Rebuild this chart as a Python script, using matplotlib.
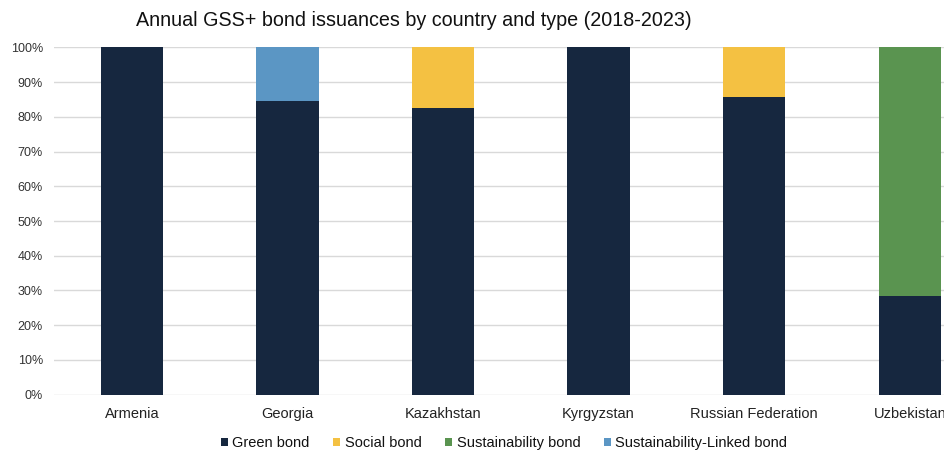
import matplotlib
matplotlib.use("Agg")
import matplotlib.pyplot as plt
import numpy as np

plt.rcParams['font.family'] = ['Liberation Sans', 'DejaVu Sans']

countries = ["Armenia", "Georgia", "Kazakhstan", "Kyrgyzstan", "Russian Federation", "Uzbekistan"]
green_bond = [100.0, 84.6, 82.4, 100.0, 85.6, 28.4]
social_bond = [0.0, 0.0, 17.6, 0.0, 14.4, 0.0]
sustainability_bond = [0.0, 0.0, 0.0, 0.0, 0.0, 71.6]
sustainability_linked_bond = [0.0, 15.4, 0.0, 0.0, 0.0, 0.0]
yticks = [0, 10, 20, 30, 40, 50, 60, 70, 80, 90, 100]
ytick_labels = [f"{v}%" for v in yticks]

series = [
    ("Green bond", green_bond, "#16273F"),
    ("Social bond", social_bond, "#F4C142"),
    ("Sustainability bond", sustainability_bond, "#5A9450"),
    ("Sustainability-Linked bond", sustainability_linked_bond, "#5B96C4"),
]

W, H = 945, 450
fig = plt.figure(figsize=(W / 100, H / 100), dpi=100)
left = 54 / W
bottom = (H - 394.7) / H
height = 347.4 / H
width = 933.6 / W
ax = fig.add_axes([left, bottom, width, height])

x = np.arange(len(countries))
base = np.zeros(len(countries))
handles = []
for name, vals, col in series:
    v = np.array(vals)
    b = ax.bar(x, v, 0.4, bottom=base, color=col, label=name, zorder=3)
    handles.append(b)
    base += v

ax.set_xlim(-0.5, len(countries) - 0.5)
ax.set_ylim(0, 100)
ax.set_yticks(yticks)
ax.set_yticklabels(ytick_labels, fontsize=9, color="#333333")
ax.set_xticks(x)
ax.set_xticklabels(countries, fontsize=10.5, color="#222222")
ax.tick_params(axis="both", length=0)
ax.tick_params(axis="x", pad=9)
ax.tick_params(axis="y", pad=8)
ax.grid(axis="y", color="#D9D9D9", linewidth=1, zorder=0)
for s in ax.spines.values():
    s.set_visible(False)

fig.text(414 / W, 1 - 21 / H, "Annual GSS+ bond issuances by country and type (2018-2023)",
         ha="center", va="center", fontsize=14.2, color="#111111")

fig.legend(handles=handles, labels=[s[0] for s in series], loc="center",
           bbox_to_anchor=(504 / W, 1 - 443 / H), ncol=4, frameon=False,
           fontsize=10.5, handlelength=0.5, handleheight=0.5, handletextpad=0.3,
           columnspacing=1.6, labelcolor="#111111")

fig.savefig("out.png", dpi=100)
